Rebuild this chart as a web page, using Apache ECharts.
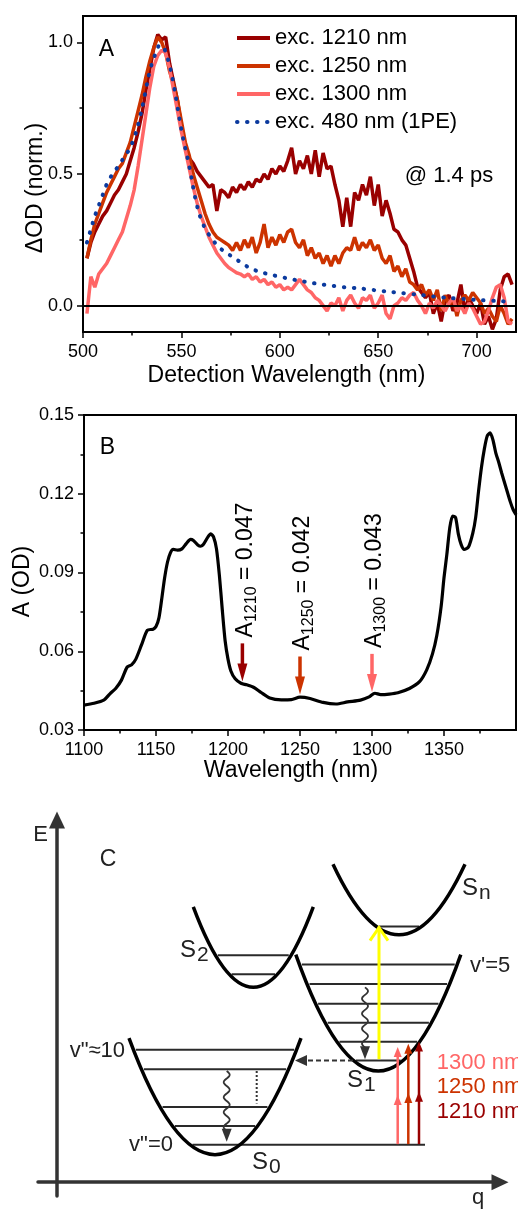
<!DOCTYPE html>
<html><head><meta charset="utf-8">
<script src="https://cdn.jsdelivr.net/npm/echarts@6/dist/echarts.min.js"></script>
<style>html,body{margin:0;padding:0;background:#fff}#c{width:518px;height:1209px}</style>
</head><body><div id="c"></div>
<script>
const FF = 'Liberation Sans, Arial, sans-serif';
// ---------- Panel A: transient spectra @ 1.4 ps ----------
const aSeriesNames = ['exc. 1210 nm', 'exc. 1250 nm', 'exc. 1300 nm', 'exc. 480 nm (1PE)'];
const aWave = [502,504,506,508,510,512,514,516,518,520,
  522,524,526,528,530,532,534,536,538,540,
  542,544,546,548,550,552,554,556,558,560,
  562,564,566,568,570,572,574,576,578,580,
  582,584,586,588,590,592,594,596,598,600,
  602,604,606,608,610,612,614,616,618,620,
  622,624,626,628,630,632,634,636,638,640,
  642,644,646,648,650,652,654,656,658,660,
  662,664,666,668,670,672,674,676,678,680,
  682,684,686,688,690,692,694,696,698,700,
  702,704,706,708,710,712,714,716,718];
const aExc1210 = [0.18,0.24,0.28,0.31,0.34,0.36,0.39,0.42,0.44,0.47,
  0.50,0.55,0.60,0.66,0.73,0.82,0.90,0.98,1.03,1.01,
  1.02,0.92,0.85,0.78,0.68,0.60,0.56,0.54,0.51,0.49,
  0.47,0.45,0.46,0.36,0.44,0.43,0.41,0.45,0.43,0.46,
  0.44,0.47,0.45,0.48,0.47,0.50,0.48,0.52,0.50,0.53,
  0.51,0.55,0.60,0.50,0.55,0.52,0.57,0.50,0.59,0.49,
  0.58,0.52,0.53,0.46,0.40,0.30,0.41,0.30,0.43,0.40,
  0.46,0.42,0.49,0.38,0.46,0.34,0.40,0.35,0.29,0.28,
  0.25,0.23,0.18,0.13,0.07,0.05,0.03,0.05,-0.03,0.01,
  -0.06,0.02,0.04,-0.02,0.01,0.08,-0.02,0.03,0.00,-0.03,
  0.01,-0.07,-0.04,-0.09,-0.05,0.06,0.11,0.12,0.08];
const aExc1250 = [0.18,0.25,0.31,0.35,0.39,0.43,0.46,0.49,0.52,0.54,
  0.58,0.62,0.68,0.74,0.80,0.87,0.93,0.98,1.02,1.00,
  0.96,0.89,0.84,0.78,0.70,0.62,0.57,0.50,0.45,0.40,
  0.35,0.31,0.28,0.26,0.25,0.24,0.23,0.21,0.24,0.21,
  0.25,0.22,0.26,0.20,0.24,0.31,0.22,0.26,0.23,0.27,
  0.24,0.28,0.29,0.24,0.22,0.25,0.19,0.22,0.18,0.20,
  0.16,0.19,0.15,0.19,0.16,0.20,0.22,0.21,0.26,0.21,
  0.24,0.22,0.25,0.21,0.23,0.18,0.16,0.19,0.13,0.15,
  0.11,0.14,0.09,0.08,0.06,0.08,0.04,0.06,0.02,0.06,
  -0.02,0.04,0.00,0.03,-0.04,0.02,0.04,0.02,0.05,0.03,
  0.01,-0.03,-0.01,-0.04,-0.06,0.00,-0.03,-0.07,-0.05];
const aExc1300 = [-0.03,0.11,0.07,0.12,0.14,0.16,0.19,0.22,0.25,0.28,
  0.33,0.38,0.44,0.53,0.63,0.73,0.83,0.91,0.95,0.97,
  0.96,0.90,0.82,0.74,0.66,0.59,0.52,0.45,0.39,0.34,
  0.30,0.26,0.23,0.20,0.18,0.16,0.145,0.135,0.125,0.12,
  0.11,0.12,0.10,0.11,0.09,0.10,0.08,0.09,0.07,0.08,
  0.06,0.07,0.06,0.08,0.10,0.08,0.06,0.05,0.03,0.02,
  0.00,-0.02,0.01,0.00,0.03,-0.02,0.02,0.04,0.01,-0.01,
  0.03,0.02,0.04,-0.01,0.01,0.04,-0.03,-0.05,0.00,0.01,
  0.03,0.02,0.04,0.05,0.02,0.00,-0.03,0.01,-0.01,0.02,
  0.00,-0.02,0.01,0.03,-0.02,0.00,-0.03,0.01,-0.01,-0.04,
  -0.07,-0.06,-0.02,0.03,0.07,0.08,0.03,-0.06,-0.07];
const aBlueWave = [502,504,506,508,510,512,515,518,521,524,527,530,533,535,537,539,541,543,545,547,549,
  551,553,555,557,559,561,563,565,568,571,575,580,585,590,597,603,609,615,621,627,633,
  640,648,655,662,670,678,686,694,702,710,718];
const aExc480 = [0.24,0.29,0.34,0.38,0.42,0.46,0.50,0.53,0.565,0.60,0.66,0.75,0.86,0.92,0.96,0.99,0.98,0.94,0.88,0.80,0.71,
  0.63,0.565,0.49,0.41,0.35,0.31,0.28,0.26,0.23,0.21,0.19,0.165,0.142,0.128,0.115,0.105,0.096,0.088,0.081,0.075,0.07,
  0.066,0.059,0.053,0.048,0.042,0.035,0.029,0.025,0.021,0.018,0.014];
const aXTicks = [500,550,600,650,700];
const aXMinor = [525,575,625,675];
const aYTicks = [0,0.5,1.0];
const aYMinor = [0.25,0.75];

// ---------- Panel B: absorption spectrum ----------
const bWave = [1100,1107,1114,1118,1122,1126,1130,1133,1136,1140,
  1144,1148,1150,1152,1154,1156,1158,1160,1162,1165,
  1168,1171,1174,1176,1179,1181,1183,1186,1188,1190,
  1192,1194,1196,1198,1200,1202,1205,1209,1213,1218,
  1223,1229,1237,1244,1250,1257,1266,1275,1283,1292,
  1298,1302,1306,1312,1318,1326,1333,1338,1342,1345,
  1348,1350,1352,1354,1356,1358,1360,1362,1364,1367,
  1370,1372,1374,1376,1378,1380,1382,1384,1386,1388,
  1390,1393,1396,1398,1400];
const bAbs = [0.0395,0.0402,0.0415,0.0438,0.0458,0.0490,0.0540,0.0548,0.0570,0.0625,
  0.0680,0.0684,0.0694,0.0726,0.0800,0.0880,0.0940,0.0975,0.0988,0.0985,
  0.0990,0.1010,0.1026,0.1022,0.1005,0.1000,0.1008,0.1035,0.1047,0.1035,
  0.0990,0.0890,0.0760,0.0640,0.0570,0.0525,0.0495,0.0478,0.0472,0.0462,
  0.0443,0.0422,0.0415,0.0416,0.0425,0.0420,0.0405,0.0399,0.0407,0.0414,
  0.0426,0.0440,0.0435,0.0437,0.0442,0.0458,0.0484,0.0529,0.0590,0.0660,
  0.0770,0.0880,0.0970,0.1070,0.1115,0.1110,0.1045,0.1005,0.0988,0.0997,
  0.1050,0.1110,0.1210,0.1300,0.1370,0.1420,0.1432,0.1405,0.1355,0.1320,
  0.1280,0.1225,0.1170,0.1140,0.1120];
const bXTicks = [1100,1150,1200,1250,1300,1350];
const bXMinor = [1125,1175,1225,1275,1325,1375];
const bYTicks = [0.03,0.06,0.09,0.12,0.15];
const bYMinor = [0.045,0.075,0.105,0.135];
const bMarkWave = [1210,1250,1300];
const bMarkValue = [0.047,0.042,0.043];

// ---------- Panel C: energy diagram (q, E units) ----------
const wellSub = ['0','1','2','n'];
const wellQ = [158,321.3,196.3,342];
const wellBottom = [28,113,198,251.3];
const wellTop = [146.3,231.3,279.7,323];
const wellHalf = [86,82.5,60,66];
const wellLevels = [[38,57,76.3,114.7,134.7],[123.7,142.7,162,181.3,201.3,221.3],[211.3,230.7],[259.7]];
const wellLabelQ = [195,290,123,405];
const wellLabelE = [20,103,235.5,298.5];
const groundEndQ = 368;
const probeQ = 322, probeFromE = 125, probeToE = 259.7;
const relaxQ = [169.7,308], relaxFromE = [113,198], relaxToE = [41,125];
const iscFromQ = 296, iscToQ = 238, iscE = 123.7;
const gapQ = 199.7, gapFromE = 113, gapToE = 80;
const excLabels = ['1300 nm','1250 nm','1210 nm'];
const excQ = [340.7,351.3,362], excFromE = 38.7, excMidE = [88.7,90.7,92], excTopE = [137.3,140.7,143];
const excLabelQ = 379.7, excLabelE = [121.3,96.3,71.3];
const diagLabels = ['v"\u224810','v"=0',"v'=5"];
const diagLabelQ = [68,116,413], diagLabelE = [133,38,220];

const C1210 = '#990000', C1250 = '#CC3300', C1300 = '#FF6666', C480 = '#0B3A9E';
const excColors = [C1300, C1250, C1210];
const markColors = [C1210, C1250, C1300];

const zip = (xs, ys) => xs.map((x, i) => [x, ys[i]]);
const tickStyle = {color:'#000', width:1.5};
const labelStyle = {color:'#000', fontSize:18, fontFamily:FF};
const nameStyle = {color:'#000', fontSize:23, fontFamily:FF};

function mainX(grid, min, max, ticks, name, gap, pad) {
  return {gridIndex:grid, type:'value', min:min, max:max, position:'bottom',
    axisLine:{show:true, onZero:false, lineStyle:{color:'#000', width:2}},
    axisTick:{show:true, inside:false, length:6, lineStyle:tickStyle, customValues:ticks},
    axisLabel:Object.assign({customValues:ticks, margin:11, formatter:v => String(v)}, labelStyle),
    splitLine:{show:false}, name:name, nameLocation:'middle', nameGap:gap, nameMoveOverlap:false,
    nameTextStyle:Object.assign({padding:[0,pad,0,0]}, nameStyle)};
}
function minorX(grid, min, max, ticks) {
  return {gridIndex:grid, type:'value', min:min, max:max, position:'bottom',
    axisLine:{show:false, onZero:false}, axisLabel:{show:false}, splitLine:{show:false},
    axisTick:{show:true, inside:false, length:3.5, lineStyle:tickStyle, customValues:ticks}};
}
function mainY(grid, min, max, ticks, digits, name, gap, pad) {
  return {gridIndex:grid, type:'value', min:min, max:max, position:'left',
    axisLine:{show:true, onZero:false, lineStyle:{color:'#000', width:2}},
    axisTick:{show:true, inside:false, length:6, lineStyle:tickStyle, customValues:ticks},
    axisLabel:Object.assign({customValues:ticks, margin:10, formatter:v => v.toFixed(digits)}, labelStyle),
    splitLine:{show:false}, name:name, nameLocation:'middle', nameGap:gap, nameMoveOverlap:false,
    nameTextStyle:Object.assign({padding:[0,pad,0,0]}, nameStyle)};
}
function minorY(grid, min, max, ticks) {
  return {gridIndex:grid, type:'value', min:min, max:max, position:'left',
    axisLine:{show:false, onZero:false}, axisLabel:{show:false}, splitLine:{show:false},
    axisTick:{show:true, inside:false, length:3.5, lineStyle:tickStyle, customValues:ticks}};
}

function tri(ch, tip, ux, uy, len, wid, color) {
  const bx = tip[0] - ux * len, by = tip[1] - uy * len, px = -uy, py = ux;
  ch.push({type:'polygon', shape:{points:[[tip[0], tip[1]], [bx + px * wid / 2, by + py * wid / 2], [bx - px * wid / 2, by - py * wid / 2]]}, style:{fill:color}});
}

function wellRender(params, api) {
  const i = params.dataIndex;
  const q = wellQ[i], eb = wellBottom[i], et = wellTop[i], hw = wellHalf[i];
  const ch = [];
  wellLevels[i].forEach((E, k) => {
    const half = hw * Math.sqrt((E - eb) / (et - eb)) - 2.5;
    const a = api.coord([q - half, E]);
    const b = api.coord([(k === 0 && i === 0) ? groundEndQ : q + half, E]);
    ch.push({type:'line', shape:{x1:a[0], y1:a[1], x2:b[0], y2:b[1]}, style:{stroke:'#2a2a2a', lineWidth:2}});
  });
  const L = api.coord([q - hw, et]), R = api.coord([q + hw, et]), C = api.coord([q, 2 * eb - et]);
  ch.push({type:'bezierCurve', shape:{x1:L[0], y1:L[1], x2:R[0], y2:R[1], cpx1:C[0], cpy1:C[1]}, style:{stroke:'#000', lineWidth:3.5, fill:'none'}});
  const lp = api.coord([wellLabelQ[i], wellLabelE[i]]);
  ch.push({type:'text', x:lp[0], y:lp[1], style:{text:'{s|S}{b|' + wellSub[i] + '}', align:'left', verticalAlign:'middle',
    rich:{s:{fontSize:24, fontFamily:FF, fill:'#222', lineHeight:30, verticalAlign:'middle'}, b:{fontSize:21, fontFamily:FF, fill:'#222', verticalAlign:'bottom', padding:[0,0,0,1]}}}});
  return {type:'group', children:ch};
}

function transRender(params, api) {
  const ch = [];
  const P = (q, E) => api.coord([q, E]);
  excQ.forEach((q, i) => {
    const a = P(q, excFromE), m = P(q, excMidE[i]), t = P(q, excTopE[i]);
    ch.push({type:'line', shape:{x1:a[0], y1:a[1], x2:t[0], y2:t[1] + 6}, style:{stroke:excColors[i], lineWidth:2.5}});
    tri(ch, m, 0, -1, 10, 8, excColors[i]);
    tri(ch, t, 0, -1, 10, 8, excColors[i]);
    const lp = P(excLabelQ, excLabelE[i]);
    ch.push({type:'text', x:lp[0], y:lp[1], style:{text:excLabels[i], fill:excColors[i], fontSize:22, fontFamily:FF, align:'left', verticalAlign:'middle'}});
  });
  relaxQ.forEach((q, i) => {
    const a = P(q, relaxFromE[i]), b = P(q, relaxToE[i]);
    const endY = b[1] - 11, pts = [];
    for (let y = a[1]; y <= endY; y += 1) pts.push([a[0] + 3 * Math.sin((y - a[1]) / 15 * 2 * Math.PI), y]);
    ch.push({type:'polyline', shape:{points:pts}, style:{stroke:'#333', lineWidth:1.8, fill:'none'}});
    tri(ch, b, 0, 1, 13, 10, '#333');
  });
  const g1 = P(gapQ, gapFromE), g2 = P(gapQ, gapToE);
  ch.push({type:'line', shape:{x1:g1[0], y1:g1[1], x2:g2[0], y2:g2[1]}, style:{stroke:'#333', lineWidth:2, lineDash:[2,2]}});
  const d1 = P(iscFromQ, iscE), d2 = P(iscToQ, iscE);
  ch.push({type:'line', shape:{x1:d1[0], y1:d1[1], x2:d2[0] + 10, y2:d2[1]}, style:{stroke:'#333', lineWidth:2, lineDash:[5,3]}});
  tri(ch, d2, -1, 0, 12, 11, '#333');
  const y1 = P(probeQ, probeFromE), y2 = P(probeQ, probeToE);
  ch.push({type:'line', shape:{x1:y1[0], y1:y1[1], x2:y2[0], y2:y2[1]}, style:{stroke:'#FFFF00', lineWidth:3}});
  ch.push({type:'polyline', shape:{points:[[y2[0] - 9, y2[1] + 14], [y2[0], y2[1] + 1], [y2[0] + 9, y2[1] + 14]]}, style:{stroke:'#FFFF00', lineWidth:3, fill:'none'}});
  diagLabels.forEach((t, i) => {
    const p = P(diagLabelQ[i], diagLabelE[i]);
    ch.push({type:'text', x:p[0], y:p[1], style:{text:t, fill:'#222', fontSize:22, fontFamily:FF, align:i < 2 ? 'right' : 'left', verticalAlign:'middle'}});
  });
  return {type:'group', children:ch};
}

function markRender(params, api) {
  const i = params.dataIndex;
  const p = api.coord([api.value(0), api.value(1)]);
  const x = p[0], tip = p[1] - 4, col = markColors[i];
  return {type:'group', children:[
    {type:'rect', shape:{x:x - 1.75, y:tip - 38, width:3.5, height:22}, style:{fill:col}},
    {type:'polygon', shape:{points:[[x - 5, tip - 18], [x + 5, tip - 18], [x, tip]]}, style:{fill:col}},
    {type:'text', x:x + 3, y:tip - 44, rotation:Math.PI / 2, style:{
      text:'{a|A}{s|' + bMarkWave[i] + '}{a| = ' + bMarkValue[i].toFixed(3) + '}', align:'left', verticalAlign:'middle',
      rich:{a:{fontSize:23, fontFamily:FF, fill:'#000', lineHeight:28, verticalAlign:'middle'},
            s:{fontSize:16, fontFamily:FF, fill:'#000', verticalAlign:'bottom'}}}}
  ]};
}

const chart = echarts.init(document.getElementById('c'), null, {renderer:'canvas'});
chart.setOption({
  animation:false,
  backgroundColor:'#fff',
  grid:[
    {left:83, top:16, width:433, height:316, show:true, borderColor:'#000', borderWidth:2, backgroundColor:'transparent'},
    {left:84, top:415, width:432, height:315, show:true, borderColor:'#000', borderWidth:2, backgroundColor:'transparent'},
    {left:38, top:820, width:462, height:382, show:false}
  ],
  xAxis:[
    mainX(0, 500, 720, aXTicks, 'Detection Wavelength (nm)', 32, 26),
    minorX(0, 500, 720, aXMinor),
    mainX(1, 1100, 1400, bXTicks, 'Wavelength (nm)', 29, 18),
    minorX(1, 1100, 1400, bXMinor),
    {gridIndex:2, type:'value', min:-19, max:443, axisLine:{show:true, onZero:true, symbol:['none','triangle'], symbolSize:[16,17], lineStyle:{color:'#333', width:3.5}},
      axisTick:{show:false}, axisLabel:{show:false}, splitLine:{show:false},
      name:'q', nameLocation:'end', nameGap:-22, nameTextStyle:{color:'#222', fontSize:22, fontFamily:FF, align:'center', verticalAlign:'top', padding:[5,0,0,0]}}
  ],
  yAxis:[
    mainY(0, -0.1, 1.1, aYTicks, 1, '\u0394OD (norm.)', 36, 28),
    minorY(0, -0.1, 1.1, aYMinor),
    mainY(1, 0.03, 0.15, bYTicks, 2, 'A (OD)', 50, 18),
    minorY(1, 0.03, 0.15, bYMinor),
    {gridIndex:2, type:'value', min:-14, max:368, axisLine:{show:true, onZero:true, symbol:['none','triangle'], symbolSize:[16,17], lineStyle:{color:'#333', width:3.5}},
      axisTick:{show:false}, axisLabel:{show:false}, splitLine:{show:false},
      name:'E', nameLocation:'end', nameGap:-15, nameTextStyle:{color:'#222', fontSize:22, fontFamily:FF, align:'right', verticalAlign:'middle', padding:[0,9,0,0]}}
  ],
  legend:{data:aSeriesNames, orient:'vertical', left:235, top:27, padding:0, itemWidth:33, itemHeight:14, itemGap:6, selectedMode:false,
    itemStyle:{opacity:0}, lineStyle:{width:4}, textStyle:{fontSize:22, fontFamily:FF, color:'#000', lineHeight:22}},
  graphic:[
    {type:'text', x:106.5, y:49.5, style:{text:'A', fontSize:23, fontFamily:FF, fill:'#000', align:'center', verticalAlign:'middle'}},
    {type:'text', x:449, y:176, style:{text:'@ 1.4 ps', fontSize:22, fontFamily:FF, fill:'#000', align:'center', verticalAlign:'middle'}},
    {type:'text', x:107.5, y:447.5, style:{text:'B', fontSize:23, fontFamily:FF, fill:'#000', align:'center', verticalAlign:'middle'}},
    {type:'text', x:108, y:860, style:{text:'C', fontSize:23, fontFamily:FF, fill:'#222', align:'center', verticalAlign:'middle'}}
  ],
  series:[
    {name:aSeriesNames[0], type:'line', xAxisIndex:0, yAxisIndex:0, data:zip(aWave, aExc1210), symbol:'none', color:C1210,
      lineStyle:{color:C1210, width:3.5}, z:2,
      markLine:{silent:true, symbol:'none', label:{show:false}, lineStyle:{color:'#000', width:2, type:'solid'}, data:[{yAxis:0}]}},
    {name:aSeriesNames[1], type:'line', xAxisIndex:0, yAxisIndex:0, data:zip(aWave, aExc1250), symbol:'none', color:C1250,
      lineStyle:{color:C1250, width:3.5}, z:3},
    {name:aSeriesNames[2], type:'line', xAxisIndex:0, yAxisIndex:0, data:zip(aWave, aExc1300), symbol:'none', color:C1300,
      lineStyle:{color:C1300, width:3.5}, z:4},
    {name:aSeriesNames[3], type:'line', xAxisIndex:0, yAxisIndex:0, data:zip(aBlueWave, aExc480), symbol:'none', color:C480, smooth:0.3,
      lineStyle:{color:C480, width:4, type:[0.5, 9.5], cap:'round'}, z:5},
    {name:'Absorbance', type:'line', xAxisIndex:2, yAxisIndex:2, data:zip(bWave, bAbs), symbol:'none', color:'#000', smooth:0.25,
      lineStyle:{color:'#000', width:3.2}},
    {name:'marks', type:'custom', xAxisIndex:2, yAxisIndex:2, data:zip(bMarkWave, bMarkValue), renderItem:markRender, z:6},
    {name:'wells', type:'custom', xAxisIndex:4, yAxisIndex:4, clip:false, data:wellQ.map((q, i) => [q, wellBottom[i]]), renderItem:wellRender},
    {name:'transitions', type:'custom', xAxisIndex:4, yAxisIndex:4, clip:false, data:[[0, 0]], renderItem:transRender, z:3}
  ]
});
</script></body></html>
